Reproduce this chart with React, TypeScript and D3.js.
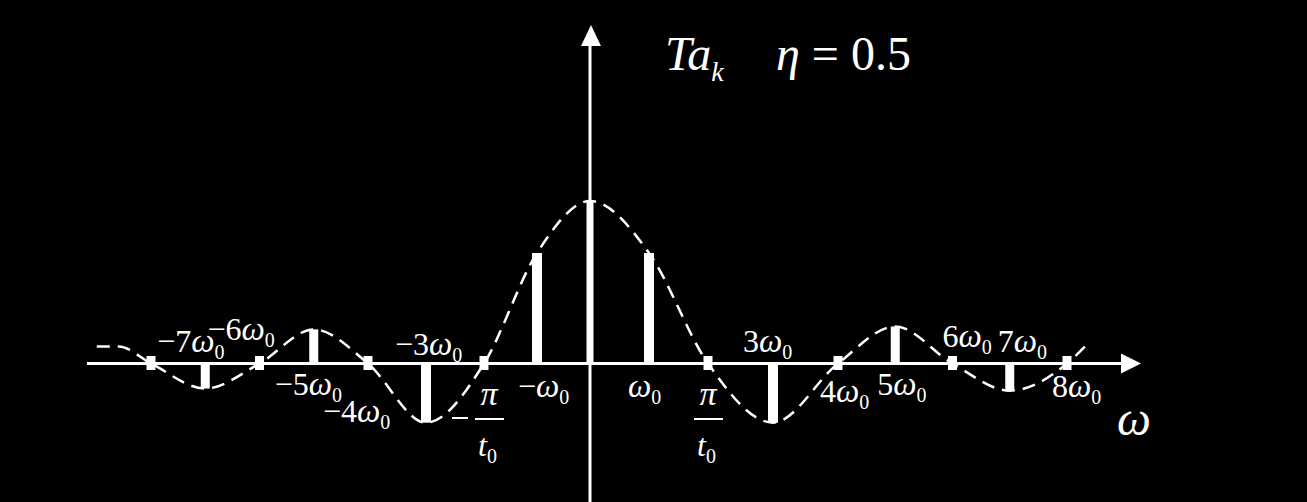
import React, { useRef, useEffect } from 'react';
import * as d3 from 'd3';

const harmonics = [-8, -7, -6, -5, -4, -3, -2, -1, 0, 1, 2, 3, 4, 5, 6, 7, 8];
const coefficients = [0, -0.154, 0, 0.21, 0, -0.364, 0, 0.68, 1.0, 0.68, 0, -0.364, 0, 0.228, 0, -0.167, 0];

// dashed envelope, points
const envelopeK = [-9, -8.6, -8, -7, -6, -5, -4, -3, -2, -1, 0, 1, 2, 3, 4, 5, 6, 7, 8, 8.35];
const envelopeValues = [0.105, 0.105, 0, -0.154, 0, 0.21, 0, -0.364, 0, 0.68, 1.0, 0.68, 0, -0.364, 0, 0.228, 0, -0.167, 0, 0.117];

// tick labels  (coef + ω0)
const labelK = [-7, -6, -5, -4, -3, -1, 1, 3, 4, 5, 6, 7, 8];
const labelCoef = ['−7', '−6', '−5', '−4', '−3', '−', '', '3', '4', '5', '6', '7', '8'];

// label placement (offset from tick, baseline)
const labelLayout = {
  '-7': [-48, 352], '-6': [-52, 340], '-5': [-39, 395], '-4': [-45, 422], '-3': [-31, 355],
  '-1': [-19, 397], '1': [-21, 397], '3': [-30, 352], '4': [-18, 402], '5': [-18, 395],
  '6': [-10, 347], '7': [-12, 352], '8': [-15, 397],
};

const W = 1307;
const H = 502;
const FONT = '"Liberation Serif", "DejaVu Serif", serif';

function SpectrumChart() {
  const ref = useRef(null);

  useEffect(() => {
    const svg = d3.select(ref.current);
    svg.selectAll('*').remove();

    // the figure's frequency axis is hand drawn, so calibrate piecewise
    const x = d3.scaleLinear()
      .domain([-8, -4, -2, 0, 2, 4, 8])
      .range([151, 368, 484, 590, 708, 838, 1067]);
    const y = d3.scaleLinear().domain([0, 1]).range([363.5, 201]);

    svg.append('rect').attr('width', W).attr('height', H).attr('fill', '#000');

    // axes
    svg.append('line')
      .attr('x1', 87).attr('x2', 1125).attr('y1', y(0)).attr('y2', y(0))
      .attr('stroke', '#fff').attr('stroke-width', 3);
    svg.append('path')
      .attr('d', `M1141,${y(0)} L1121,${y(0) - 10} L1121,${y(0) + 10} Z`)
      .attr('fill', '#fff');
    svg.append('line')
      .attr('x1', x(0)).attr('x2', x(0)).attr('y1', 40).attr('y2', H)
      .attr('stroke', '#fff').attr('stroke-width', 3);
    svg.append('path')
      .attr('d', `M${x(0) + 1},25 L${x(0) - 9},46 L${x(0) + 11},46 Z`)
      .attr('fill', '#fff');

    // envelope
    const line = d3.line()
      .x((d) => x(d[0]))
      .y((d) => y(d[1]))
      .curve(d3.curveMonotoneX);
    svg.append('path')
      .datum(envelopeK.map((k, i) => [k, envelopeValues[i]]))
      .attr('d', line)
      .attr('fill', 'none')
      .attr('stroke', '#fff')
      .attr('stroke-width', 2.5)
      .attr('stroke-dasharray', '13 8');

    const data = harmonics.map((k, i) => ({ k, v: coefficients[i] }));

    // stems
    const stemWidth = (k) => (k === 0 ? 7 : Math.abs(k) <= 3 ? 10 : 9);
    svg.selectAll('rect.stem')
      .data(data.filter((d) => d.v !== 0))
      .enter().append('rect')
      .attr('class', 'stem')
      .attr('x', (d) => x(d.k) - stemWidth(d.k) / 2)
      .attr('y', (d) => Math.min(y(0), y(d.v)))
      .attr('width', (d) => stemWidth(d.k))
      .attr('height', (d) => Math.abs(y(d.v) - y(0)))
      .attr('fill', '#fff');

    // zero samples
    svg.selectAll('rect.zero')
      .data(data.filter((d) => d.v === 0))
      .enter().append('rect')
      .attr('class', 'zero')
      .attr('x', (d) => x(d.k) - 4.5)
      .attr('y', y(0) - 7.5)
      .attr('width', 9)
      .attr('height', 14)
      .attr('fill', '#fff');

    // tick labels
    labelK.forEach((k, i) => {
      const [dx, by] = labelLayout[String(k)];
      const t = svg.append('text')
        .attr('x', x(k) + dx)
        .attr('y', by)
        .attr('fill', '#fff')
        .attr('font-family', FONT);
      if (labelCoef[i]) t.append('tspan').attr('font-size', 32).text(labelCoef[i]);
      t.append('tspan').attr('font-size', 33).attr('font-style', 'italic').text('ω');
      t.append('tspan').attr('font-size', 20).attr('dy', 7).text('0');
    });

    // ±π/t0 fractions
    const frac = (cx, neg) => {
      const g = svg.append('g').attr('fill', '#fff').attr('font-family', FONT);
      if (neg) {
        g.append('rect').attr('x', cx - 37).attr('y', 417).attr('width', 16).attr('height', 2);
      }
      g.append('text').attr('x', cx).attr('y', 405).attr('text-anchor', 'middle')
        .attr('font-size', 34).attr('font-style', 'italic').text('π');
      g.append('rect').attr('x', cx - 14).attr('y', 418).attr('width', 29).attr('height', 2);
      const t = g.append('text').attr('x', cx - 11).attr('y', 456);
      t.append('tspan').attr('font-size', 32).attr('font-style', 'italic').text('t');
      t.append('tspan').attr('font-size', 20).attr('dy', 7).text('0');
    };
    frac(x(-2) + 5, true);
    frac(x(2), false);

    // axis name
    svg.append('text')
      .attr('x', 1117).attr('y', 435)
      .attr('fill', '#fff')
      .attr('font-family', FONT).attr('font-size', 48).attr('font-style', 'italic')
      .text('ω');

    // title
    const title = svg.append('text').attr('x', 665).attr('y', 70).attr('fill', '#fff')
      .attr('font-family', FONT);
    title.append('tspan').attr('font-size', 48).attr('font-style', 'italic').text('Ta');
    title.append('tspan').attr('font-size', 28).attr('font-style', 'italic').attr('dy', 11).text('k');
    const title2 = svg.append('text').attr('x', 776).attr('y', 70).attr('fill', '#fff')
      .attr('font-family', FONT).attr('font-size', 48);
    title2.append('tspan').attr('font-style', 'italic').text('η');
    title2.append('tspan').text(' = 0.5');
  }, []);

  return (
    <svg ref={ref} width={W} height={H} style={{ position: 'absolute', left: 0, top: 0 }} />
  );
}

export default function App() {
  return <SpectrumChart />;
}
